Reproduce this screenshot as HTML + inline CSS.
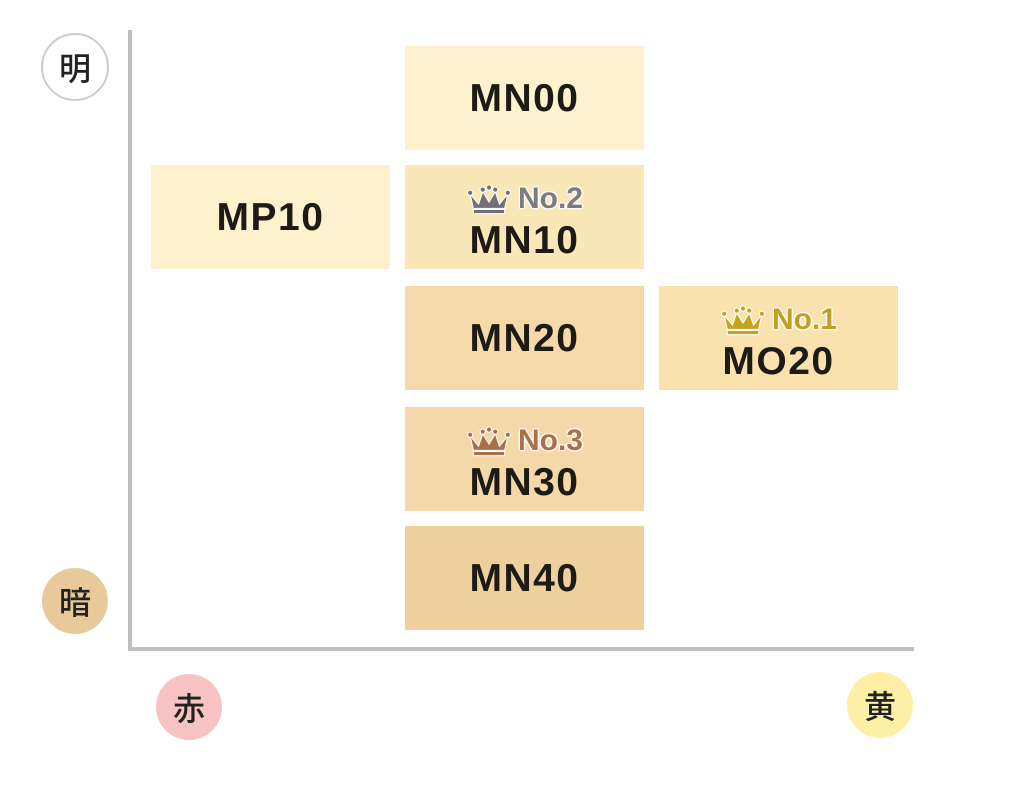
<!DOCTYPE html>
<html><head><meta charset="utf-8"><style>
body{margin:0;width:1024px;height:797px;background:#fff;position:relative;overflow:hidden;font-family:"Liberation Sans","Noto Sans CJK JP",sans-serif}
.b{position:absolute;width:239px;height:104px;display:flex;flex-direction:column;align-items:center;justify-content:center;font-weight:bold;font-size:39px;color:#1e1a16;letter-spacing:1.5px;line-height:1}
.b.k{padding-top:12px;box-sizing:border-box}
.c{position:absolute;width:66px;height:66px;border-radius:50%;display:flex;align-items:center;justify-content:center;font-size:32px;color:#222;font-family:"Noto Sans CJK JP",sans-serif;font-weight:500}
.r{display:flex;align-items:center;font-size:30px;height:36px;margin-top:-6px;margin-bottom:4px;text-shadow:0 0 2px #fff,0 0 2px #fff,1px 1px 1px #fff,-1px -1px 1px #fff,1px -1px 1px #fff,-1px 1px 1px #fff;letter-spacing:0}
.r svg{margin-right:6px}
</style></head><body>
<div style="position:absolute;left:128px;top:30px;width:4px;height:621px;background:#bfbfbc"></div>
<div style="position:absolute;left:128px;top:647px;width:786px;height:4px;background:#bfbfbc"></div>

<div class="c" style="left:41px;top:33px;border:2px solid #ccc;width:64px;height:64px">明</div>
<div class="c" style="left:42px;top:568px;background:#e8c99a">暗</div>
<div class="c" style="left:156px;top:674px;background:#f8c3c3">赤</div>
<div class="c" style="left:847px;top:672px;background:#fdf0a6">黄</div>

<div class="b" style="left:151px;top:165px;background:#fdf2cd">MP10</div>
<div class="b" style="left:405px;top:46px;background:#fdf2cd">MN00</div>
<div class="b k" style="left:405px;top:165px;background:#fae7b8"><div class="r" style="color:#7b7b80"><svg width="46" height="32" viewBox="0 0 44 30"><g fill="#707078" stroke="#fff" stroke-width="1"><path d="M4 10 L12 20 L16 8 L22 18 L28 8 L32 20 L40 10 L37 24 L7 24Z"/><rect x="7" y="25" width="30" height="4"/><circle cx="4" cy="9" r="2.5"/><circle cx="16" cy="6" r="2.5"/><circle cx="22" cy="4" r="2.5"/><circle cx="28" cy="6" r="2.5"/><circle cx="40" cy="9" r="2.5"/></g></svg>No.2</div>MN10</div>
<div class="b" style="left:405px;top:286px;background:#f5d9aa">MN20</div>
<div class="b k" style="left:659px;top:286px;background:#f9e2ae"><div class="r" style="color:#c0a020"><svg width="46" height="32" viewBox="0 0 44 30"><g fill="#c4a41e" stroke="#fff" stroke-width="1"><path d="M4 10 L12 20 L16 8 L22 18 L28 8 L32 20 L40 10 L37 24 L7 24Z"/><rect x="7" y="25" width="30" height="4"/><circle cx="4" cy="9" r="2.5"/><circle cx="16" cy="6" r="2.5"/><circle cx="22" cy="4" r="2.5"/><circle cx="28" cy="6" r="2.5"/><circle cx="40" cy="9" r="2.5"/></g></svg>No.1</div>MO20</div>
<div class="b k" style="left:405px;top:407px;background:#f5d8a9"><div class="r" style="color:#a8714a"><svg width="46" height="32" viewBox="0 0 44 30"><g fill="#a8714a" stroke="#fff" stroke-width="1"><path d="M4 10 L12 20 L16 8 L22 18 L28 8 L32 20 L40 10 L37 24 L7 24Z"/><rect x="7" y="25" width="30" height="4"/><circle cx="4" cy="9" r="2.5"/><circle cx="16" cy="6" r="2.5"/><circle cx="22" cy="4" r="2.5"/><circle cx="28" cy="6" r="2.5"/><circle cx="40" cy="9" r="2.5"/></g></svg>No.3</div>MN30</div>
<div class="b" style="left:405px;top:526px;background:#eed09f">MN40</div>
</body></html>
